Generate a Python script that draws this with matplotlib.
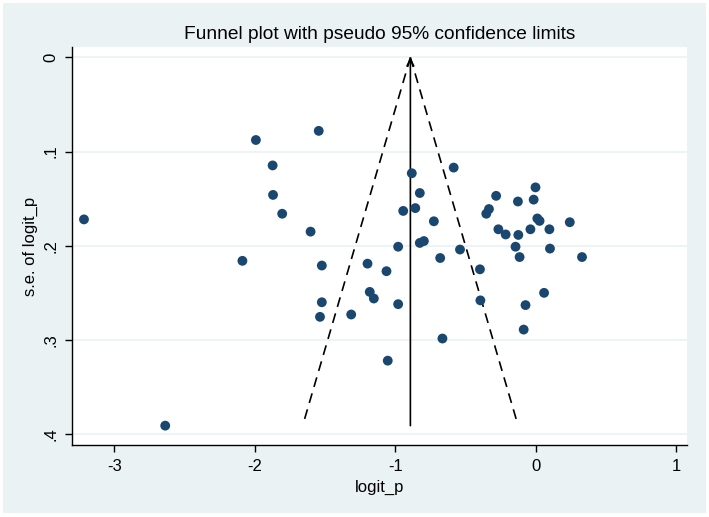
import numpy as np
import matplotlib
matplotlib.use('Agg')
import matplotlib.pyplot as plt
from matplotlib.patches import Rectangle

plt.rcParams['font.family'] = ['Liberation Sans', 'DejaVu Sans']

# study estimates (logit_p) and standard errors
logit_p = [-3.215, -2.637, -1.992, -1.545, -1.873, -1.870, -1.805, -1.603, -2.088, -1.523,
           -1.523, -1.536, -1.314, -1.198, -1.182, -1.153, -1.063, -0.980, -0.980, -1.054,
           -0.944, -0.883, -0.858, -0.826, -0.826, -0.797, -0.726, -0.681, -0.665, -0.585,
           -0.540, -0.398, -0.395, -0.353, -0.334, -0.283, -0.267, -0.215, -0.145, -0.128,
           -0.125, -0.116, -0.087, -0.074, -0.039, -0.016, -0.003, 0.010, 0.026, 0.058,
           0.096, 0.100, 0.241, 0.328]
se = [0.172, 0.391, 0.0877, 0.078, 0.1147, 0.146, 0.166, 0.185, 0.216, 0.221,
      0.260, 0.2755, 0.273, 0.219, 0.249, 0.256, 0.227, 0.201, 0.262, 0.322,
      0.163, 0.123, 0.160, 0.144, 0.197, 0.195, 0.174, 0.213, 0.2985, 0.117,
      0.204, 0.225, 0.258, 0.166, 0.161, 0.147, 0.1825, 0.188, 0.201, 0.153,
      0.1885, 0.212, 0.289, 0.263, 0.1825, 0.151, 0.138, 0.171, 0.1736, 0.250,
      0.1825, 0.203, 0.175, 0.212]

pooled = -0.893
se_max = 0.387
xticks = [-3, -2, -1, 0, 1]
yticks = [0, 0.1, 0.2, 0.3, 0.4]
ytick_labels = ['0', '.1', '.2', '.3', '.4']

bg = '#EAF2F3'
navy = '#1A476F'

fig = plt.figure(figsize=(7.09, 5.17), dpi=100, facecolor='white')
# graph region with thin white frame
fig.patches.append(Rectangle((3 / 709, 4 / 517), 703 / 709, 510 / 517,
                             transform=fig.transFigure, facecolor=bg,
                             edgecolor='none', zorder=-1))

ax = fig.add_axes([0.1016, 0.139, 0.8674, 0.770])
ax.set_facecolor('white')

for yt in yticks:
    ax.axhline(yt, color=bg, lw=1.2, zorder=0)

# pseudo 95% limits
se_line = np.array([0, se_max])
ax.plot(pooled - 1.96 * se_line, se_line, color='black', ls=(0, (6, 4)), lw=1.2)
ax.plot(pooled + 1.96 * se_line, se_line, color='black', ls=(0, (6, 4)), lw=1.2)
ax.annotate('', xy=(pooled, 0), xytext=(pooled, max(se)),
            arrowprops=dict(arrowstyle='->', color='black', lw=1.2,
                            shrinkA=0, shrinkB=0, mutation_scale=12))

ax.scatter(logit_p, se, s=50, color=navy, edgecolors='none', zorder=3)

ax.set_xlim(-3.30, 1.075)
ax.set_ylim(0.4117, -0.011)
ax.set_xticks(xticks)
ax.set_xticklabels([str(t) for t in xticks])
ax.set_yticks(yticks)
ax.set_yticklabels(ytick_labels, rotation=90, va='center')
ax.tick_params(direction='out', length=5, width=1, labelsize=12, color='black', pad=5)

for s in ['top', 'right']:
    ax.spines[s].set_visible(False)
for s in ['left', 'bottom']:
    ax.spines[s].set_linewidth(1)

ax.set_xlabel('logit_p', fontsize=12, labelpad=4)
ax.set_ylabel('s.e. of logit_p', fontsize=12, labelpad=4)
ax.set_title('Funnel plot with pseudo 95% confidence limits', fontsize=13.8, pad=6)

fig.savefig('out.png', dpi=100, facecolor='white')
